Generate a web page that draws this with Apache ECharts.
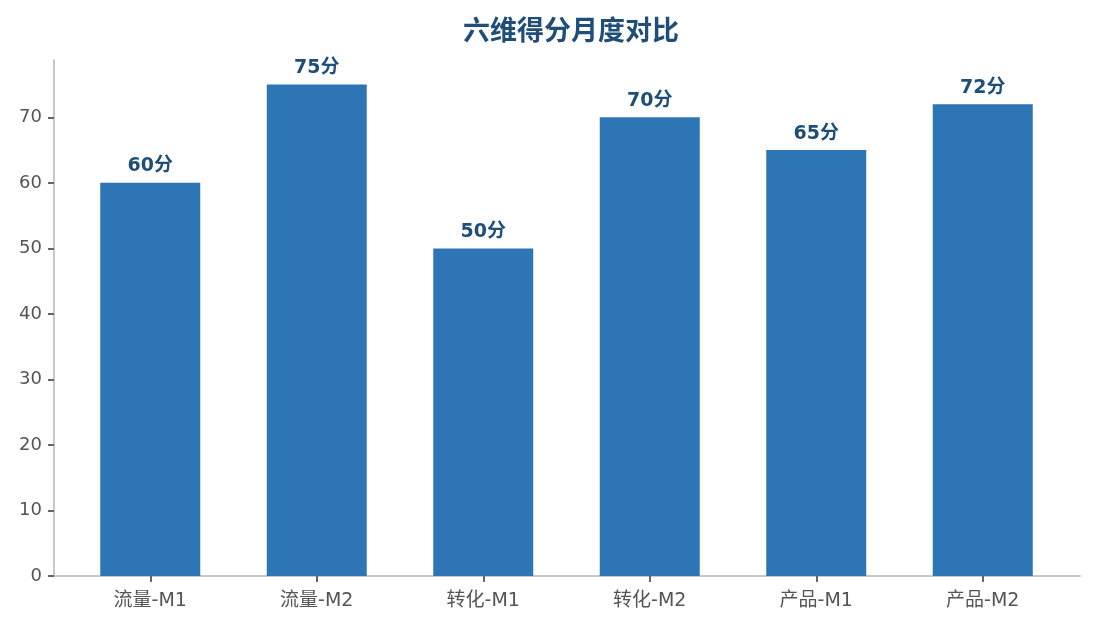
<!DOCTYPE html>
<html>
<head>
<meta charset="utf-8">
<script src="https://cdn.jsdelivr.net/npm/echarts@6/dist/echarts.min.js"></script>
<style>
html, body { margin: 0; padding: 0; background: #fff; }
#main { width: 1095px; height: 629px; }
</style>
</head>
<body>
<div id="main"></div>
<script>
// 类目与得分
var categories = ['流量-M1', '流量-M2', '转化-M1', '转化-M2', '产品-M1', '产品-M2'];
var scores = [60, 75, 50, 70, 65, 72];

var chart = echarts.init(document.getElementById('main'));
var font = '"DejaVu Sans", "Noto Sans CJK SC", sans-serif';
var yMax = Math.max.apply(null, scores) * 1.05;

var option = {
    backgroundColor: '#fff',
    title: {
        text: '六维得分月度对比',
        left: 566,
        textAlign: 'center',
        top: 11,
        textStyle: {
            fontFamily: '"Noto Sans CJK SC", sans-serif',
            fontSize: 27,
            fontWeight: 'bold',
            color: '#1f4e79'
        }
    },
    // 外框: y轴和x轴线; 内框: 柱子 (两侧留白)
    grid: [
        { left: 54, right: 15, top: 60, bottom: 53 },
        { left: 67, right: 29, top: 60, bottom: 53 }
    ],
    xAxis: [{
        gridIndex: 0,
        type: 'value',
        min: 0,
        max: 1,
        axisLine: { show: true, lineStyle: { color: '#c8c8c8', width: 2 } },
        axisTick: { show: false },
        axisLabel: { show: false },
        splitLine: { show: false }
    }, {
        gridIndex: 1,
        type: 'category',
        data: categories,
        axisLine: { show: false },
        axisTick: { show: true, alignWithLabel: true, length: 6, lineStyle: { color: '#666', width: 2 } },
        axisLabel: { fontFamily: font, fontSize: 19, color: '#555', margin: 16 }
    }],
    yAxis: [{
        gridIndex: 0,
        type: 'value',
        min: 0,
        max: yMax,
        interval: 10,
        splitLine: { show: false },
        axisLine: { show: true, lineStyle: { color: '#c8c8c8', width: 2 } },
        axisTick: { show: true, length: 6, lineStyle: { color: '#666', width: 2 } },
        axisLabel: {
            fontFamily: font, fontSize: 18, color: '#555', margin: 12,
            showMaxLabel: false
        }
    }, {
        gridIndex: 1,
        type: 'value',
        min: 0,
        max: yMax,
        show: false
    }],
    series: [{
        type: 'bar',
        xAxisIndex: 1,
        yAxisIndex: 1,
        data: scores,
        barWidth: 100,
        itemStyle: { color: '#2e75b6' },
        label: {
            show: true,
            position: 'top',
            distance: 7,
            formatter: '{c}分',
            fontFamily: font,
            fontSize: 19,
            fontWeight: 'bold',
            color: '#1f4e79'
        }
    }]
};
chart.setOption(option);
</script>
</body>
</html>
